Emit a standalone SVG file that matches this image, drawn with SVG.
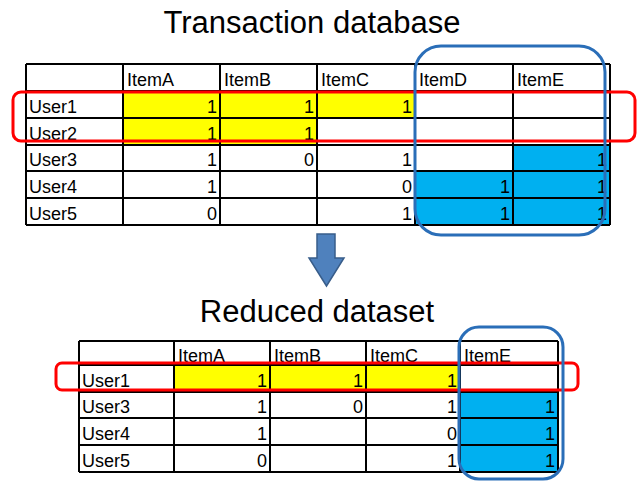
<svg xmlns="http://www.w3.org/2000/svg" width="639" height="481" viewBox="0 0 639 481">
<style>
.title{font-family:"Liberation Sans",Arial,sans-serif;font-size:31px;fill:#000;text-anchor:middle}
.c{font-family:"Liberation Sans",Arial,sans-serif;font-size:18px;fill:#000}
.n{text-anchor:end}
.grid{stroke:#000;stroke-width:2;fill:none}
.y{fill:#FFFF00}
.b{fill:#00B0F0}
.red{fill:none;stroke:#FF0000;stroke-width:3}
.blue{fill:none;stroke:#2A6EB8;stroke-width:3}
.arrow{fill:#4F81BD;stroke:#385D8A;stroke-width:1.5}
</style>
<rect width="639" height="481" fill="#fff"/>
<text id="title1" class="title" x="312" y="33">Transaction database</text>
<text id="title2" class="title" x="317" y="322">Reduced dataset</text>

<g id="table1">
<rect class="y" x="123" y="91" width="292" height="27"/>
<rect class="y" x="123" y="118" width="194" height="27"/>
<rect class="b" x="513" y="145" width="97" height="80"/>
<rect class="b" x="415" y="171" width="98" height="54"/>
<path class="grid" d="M26 64H610M26 91H610M26 118H610M26 145H610M26 171H610M26 198H610M26 225H610M26 64V225M123 64V225M220 64V225M317 64V225M415 64V225M513 64V225M610 64V225"/>
<g class="c">
<text x="127" y="86">ItemA</text><text x="224" y="86">ItemB</text><text x="321" y="86">ItemC</text><text x="419" y="86">ItemD</text><text x="517" y="86">ItemE</text>
<text x="29" y="113">User1</text><text x="29" y="140">User2</text><text x="29" y="166">User3</text><text x="29" y="193">User4</text><text x="29" y="220">User5</text>
</g>
<g class="c n">
<text x="217" y="113">1</text><text x="314" y="113">1</text><text x="412" y="113">1</text>
<text x="217" y="140">1</text><text x="314" y="140">1</text>
<text x="217" y="166">1</text><text x="314" y="166">0</text><text x="412" y="166">1</text><text x="607" y="166">1</text>
<text x="217" y="193">1</text><text x="412" y="193">0</text><text x="510" y="193">1</text><text x="607" y="193">1</text>
<text x="217" y="220">0</text><text x="412" y="220">1</text><text x="510" y="220">1</text><text x="607" y="220">1</text>
</g>
</g>

<g id="table2">
<rect class="y" x="174" y="365" width="286" height="27"/>
<rect class="b" x="460" y="392" width="98" height="80"/>
<path class="grid" d="M79 341H558M79 365H558M79 392H558M79 418H558M79 445H558M79 472H558M79 341V472M174 341V472M270 341V472M366 341V472M460 341V472M558 341V472"/>
<g class="c">
<text x="178" y="362">ItemA</text><text x="274" y="362">ItemB</text><text x="370" y="362">ItemC</text><text x="464" y="362">ItemE</text>
<text x="82" y="387">User1</text><text x="82" y="413">User3</text><text x="82" y="440">User4</text><text x="82" y="467">User5</text>
</g>
<g class="c n">
<text x="267" y="387">1</text><text x="363" y="387">1</text><text x="457" y="387">1</text>
<text x="267" y="413">1</text><text x="363" y="413">0</text><text x="457" y="413">1</text><text x="555" y="413">1</text>
<text x="267" y="440">1</text><text x="457" y="440">0</text><text x="555" y="440">1</text>
<text x="267" y="467">0</text><text x="457" y="467">1</text><text x="555" y="467">1</text>
</g>
</g>

<g id="highlights">
<rect id="red1" class="red" x="13" y="92" width="622" height="49" rx="8"/>
<rect id="blue1" class="blue" x="415" y="46" width="190" height="189" rx="26"/>
<rect id="red2" class="red" x="56" y="363" width="522" height="27" rx="6"/>
<rect id="blue2" class="blue" x="459" y="327" width="104" height="152" rx="20"/>
</g>

<g id="connectors">
<polygon class="arrow" points="317,234 335,234 335,258 344,258 326.5,286 309,258 317,258"/>
</g>
</svg>
